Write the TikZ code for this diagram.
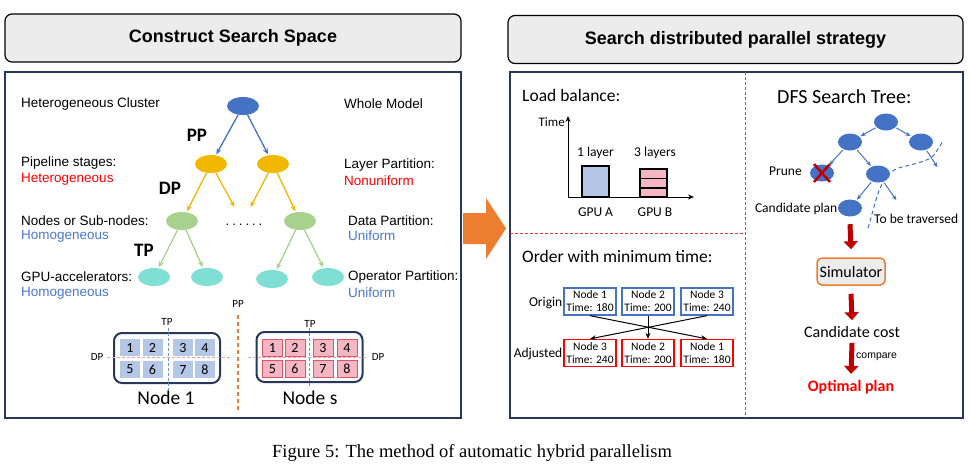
\documentclass[tikz,border=0pt]{standalone}
\usepackage{fontspec}
\setmainfont{Liberation Sans}
\newfontfamily\calfont{Carlito}
\newfontfamily\capfont{Liberation Serif}
\usetikzlibrary{arrows.meta,shapes.geometric}
\definecolor{navy}{RGB}{40,55,90}
\definecolor{tgray}{RGB}{236,236,236}
\definecolor{nblue}{RGB}{68,114,196}
\definecolor{nyellow}{RGB}{240,185,0}
\definecolor{ngreen}{RGB}{169,209,142}
\definecolor{ncyan}{RGB}{128,223,212}
\definecolor{cellblue}{RGB}{180,199,231}
\definecolor{cellpink}{RGB}{244,182,194}
\definecolor{cellred}{RGB}{224,85,100}
\definecolor{orng}{RGB}{237,125,49}
\definecolor{dred}{RGB}{192,0,0}
\definecolor{divred}{RGB}{224,60,60}
\definecolor{txtblue}{RGB}{75,120,205}
\definecolor{dppink}{RGB}{240,160,170}
\definecolor{tpblue}{RGB}{110,145,220}
\tikzset{
  titlebox/.style={draw=black, line width=1.2, fill=tgray, rounded corners=7,
    minimum height=48, inner sep=0, font=\bfseries\fontsize{18}{20}\selectfont},
  panel/.style={draw=navy, line width=2, fill=white, inner sep=0},
  tnode/.style={ellipse, minimum width=32, minimum height=18, inner sep=0},
  tarr/.style={line width=1.3, -{Stealth[length=6,width=5]}, shorten >=1},
  lab/.style={anchor=west, inner sep=0, font=\fontsize{13.5}{15}\selectfont},
  bigtp/.style={inner sep=0, font=\calfont\bfseries\fontsize{19}{20}\selectfont},
  nodebox/.style={draw=navy, line width=2, fill=white, rounded corners=8,
    minimum width=106, minimum height=50, inner sep=0},
  cellb/.style={fill=cellblue, minimum width=20, minimum height=17, inner sep=0,
    font=\calfont\fontsize{14}{15}\selectfont},
  cellp/.style={fill=cellpink, draw=cellred, line width=0.8, minimum width=20, minimum height=17, inner sep=0,
    font=\calfont\fontsize{14}{15}\selectfont},
  small/.style={inner sep=0, font=\calfont\fontsize{11}{12}\selectfont},
  nodelab/.style={inner sep=0, font=\calfont\fontsize{19.5}{21}\selectfont},
  dpline/.style={dppink, line width=1, dash pattern=on 3 off 2},
  tpline/.style={tpblue, line width=1, dash pattern=on 3 off 2},
  cal/.style={inner sep=0, font=\calfont\fontsize{#1}{#1}\selectfont},
  ordbox/.style={draw=#1, line width=1.3, fill=white, minimum width=52, minimum height=27,
    inner sep=0, align=center, font=\calfont\fontsize{11.5}{13}\selectfont},
  dfs/.style={ellipse, fill=nblue, minimum width=24, minimum height=17, inner sep=0},
  darr/.style={nblue, line width=1, -{Stealth[length=5,width=4]}, shorten >=1, shorten <=1},
  bigarr/.style={dred, line width=5, -{Triangle[length=8,width=14]}},
}
\begin{document}
\begin{tikzpicture}[x=1pt,y=-1pt]
\useasboundingbox (0,0) rectangle (973,467);
% titles
\node[titlebox, minimum width=456] (t1) at (233,38) {Construct Search Space};
\node[titlebox, minimum width=455] (t2) at (735.5,39.5) {Search distributed parallel strategy};
% panels
\node[panel, minimum width=456, minimum height=346] (p1) at (233,245) {};
\node[panel, minimum width=453, minimum height=346] (p2) at (736.5,245) {};
% orange arrow
\fill[orng] (463,213) -- (486,213) -- (486,198) -- (506,228.5) -- (486,259) -- (486,244) -- (463,244) -- cycle;

% ===== left tree =====
\node[tnode, fill=nblue] (R) at (243,106) {};
\node[tnode, fill=nyellow] (Y1) at (211,164) {};
\node[tnode, fill=nyellow] (Y2) at (273,164) {};
\node[tnode, fill=ngreen] (G1) at (182,221) {};
\node[tnode, fill=ngreen] (G2) at (300,221) {};
\node[tnode, fill=ncyan] (C1) at (154,277) {};
\node[tnode, fill=ncyan] (C2) at (207,277) {};
\node[tnode, fill=ncyan] (C3) at (272,279) {};
\node[tnode, fill=ncyan] (C4) at (328,277) {};
\coordinate (Y1e) at (235,208);
\coordinate (Y2e) at (250,208);
\draw[tarr, nblue] (R) -- (Y1);
\draw[tarr, nblue] (R) -- (Y2);
\draw[tarr, nyellow] (Y1) -- (G1);
\draw[tarr, nyellow] (Y1) -- (Y1e);
\draw[tarr, nyellow] (Y2) -- (Y2e);
\draw[tarr, nyellow] (Y2) -- (G2);
\draw[tarr, ngreen] (G1) -- (C1);
\draw[tarr, ngreen] (G1) -- (C2);
\draw[tarr, ngreen] (G2) -- (C3);
\draw[tarr, ngreen] (G2) -- (C4);
\node[inner sep=0, font=\fontsize{13}{14}\selectfont] (dots) at (244,225) {.\hspace{3pt}.\hspace{3pt}.\hspace{3pt}.\hspace{3pt}.\hspace{3pt}.};
\node[bigtp] (lPP) at (197,135) {PP};
\node[bigtp] (lDP) at (170,188) {DP};
\node[bigtp] (lTP) at (144,250) {TP};
% left labels
\node[lab] (h1) at (21,104) {Heterogeneous Cluster};
\node[lab] (h2) at (21,163) {Pipeline stages:};
\node[lab, text=red] (h2b) at (21,179) {Heterogeneous};
\node[lab] (h3) at (21,221) {Nodes or Sub-nodes:};
\node[lab, text=txtblue] (h3b) at (21,236) {Homogeneous};
\node[lab] (h4) at (21,277) {GPU-accelerators:};
\node[lab, text=txtblue] (h4b) at (21,293) {Homogeneous};
% right labels
\node[lab] (w1) at (344,104) {Whole Model};
\node[lab] (w2) at (344,165) {Layer Partition:};
\node[lab, text=red] (w2b) at (344,181) {Nonuniform};
\node[lab] (w3) at (348,221) {Data Partition:};
\node[lab, text=txtblue] (w3b) at (348,236) {Uniform};
\node[lab] (w4) at (348,277) {Operator Partition:};
\node[lab, text=txtblue] (w4b) at (348,293) {Uniform};

% ===== node 1 =====
\node[nodebox] (N1) at (167,358) {};
\draw[dpline] (107,357) -- (230,357);
\draw[tpline] (168,328) -- (168,390);
\node[cellb] (a1) at (130,347.5) {1};
\node[cellb] (a2) at (152.5,347.5) {2};
\node[cellb] (a3) at (183,347.5) {3};
\node[cellb] (a4) at (205,347.5) {4};
\node[cellb] (a5) at (130,369.5) {5};
\node[cellb] (a6) at (152.5,369.5) {6};
\node[cellb] (a7) at (183,369.5) {7};
\node[cellb] (a8) at (205,369.5) {8};
\node[small, fill=white, inner sep=0.5] (tp1) at (167,322) {TP};
\node[small, fill=white, inner sep=0.5] (dp1) at (97,357) {DP};
\node[nodelab] (n1l) at (166,398) {Node 1};
% PP divider
\node[small] (ppl) at (238,304) {PP};
\draw[orng, line width=2, dash pattern=on 4 off 3] (238,315) -- (238,411);
% ===== node s =====
\node[nodebox] (Ns) at (309.5,357) {};
\draw[dpline] (248,357) -- (367,357);
\draw[tpline] (309,328) -- (309,388);
\node[cellp] (b1) at (272.5,348) {1};
\node[cellp] (b2) at (295,348) {2};
\node[cellp] (b3) at (323,348) {3};
\node[cellp] (b4) at (347,348) {4};
\node[cellp] (b5) at (272.5,369) {5};
\node[cellp] (b6) at (295,369) {6};
\node[cellp] (b7) at (323,369) {7};
\node[cellp] (b8) at (347,369) {8};
\node[small, fill=white, inner sep=0.5] (tps) at (310,324) {TP};
\node[small, fill=white, inner sep=0.5] (dps) at (378,357) {DP};
\node[nodelab] (nsl) at (310,398) {Node s};

% ===== right panel =====
\draw[divred, line width=0.9, dash pattern=on 3 off 2] (745,72) -- (745,418);
\draw[divred, line width=0.9, dash pattern=on 3 off 2] (510,233) -- (745,233);
% load balance
\node[cal=17.5, anchor=west] (lb) at (522,95) {Load balance:};
\coordinate (O) at (568,197);
\coordinate (Ytop) at (568,116);
\coordinate (Xend) at (694,197);
\draw[line width=1, -{Stealth[length=6,width=5]}] (O) -- (Ytop);
\draw[line width=1, -{Stealth[length=6,width=5]}] (O) -- (Xend);
\node[cal=13, anchor=east] (tm) at (565,122) {Time};
\draw[fill=cellblue, line width=1.2] (582,166) rectangle (609,197);
\draw[fill=cellpink, line width=1.2] (640,169) rectangle (667,197);
\draw[line width=1.2] (640,178.5) -- (667,178.5) (640,188) -- (667,188);
\node[cal=13.5] (l1) at (595.5,153) {1 layer};
\node[cal=13.5] (l3) at (655,153) {3 layers};
\node[cal=13.5] (ga) at (595.5,212) {GPU A};
\node[cal=13.5] (gb) at (655,212) {GPU B};
% order
\node[cal=17.5, anchor=west] (ow) at (522,256) {Order with minimum time:};
\node[ordbox=nblue] (O1) at (590,301.5) {Node 1\\Time: 180};
\node[ordbox=nblue] (O2) at (648,301.5) {Node 2\\Time: 200};
\node[ordbox=nblue] (O3) at (707,301.5) {Node 3\\Time: 240};
\node[ordbox=red] (A3) at (590,353) {Node 3\\Time: 240};
\node[ordbox=red] (A2) at (648,353) {Node 2\\Time: 200};
\node[ordbox=red] (A1) at (707,353) {Node 1\\Time: 180};
\node[cal=13.5, anchor=east] (org) at (562.5,303) {Origin};
\node[cal=13.5, anchor=east] (adj) at (562.5,354) {Adjusted};
\draw[line width=1, -{Stealth[length=6,width=5]}] (O1.south) -- (A1.north);
\draw[line width=1, -{Stealth[length=6,width=5]}] (O3.south) -- (A3.north);
\draw[line width=1, -{Stealth[length=6,width=5]}] (O2.south) -- (A2.north);
% DFS tree
\node[cal=20, anchor=west] (dfst) at (777,97) {DFS Search Tree:};
\node[dfs] (D0) at (886,122) {};
\node[dfs] (D1) at (850,142) {};
\node[dfs] (D2) at (921,142) {};
\node[dfs] (Dp) at (822,173) {};
\node[dfs] (D3) at (878,174) {};
\node[dfs] (Dc) at (850,208) {};
\coordinate (D2e) at (938,168);
\coordinate (D3e) at (897,201);
\draw[darr] (D0) -- (D1);
\draw[darr] (D0) -- (D2);
\draw[darr] (D1) -- (Dp);
\draw[darr] (D1) -- (D3);
\draw[darr] (D2) -- (D2e);
\draw[darr] (D3) -- (Dc);
\draw[darr] (D3) -- (D3e);
\draw[dred, line width=2.5] ([shift={(-8,-9)}]Dp.center) -- ([shift={(8,9)}]Dp.center);
\draw[dred, line width=2.5] ([shift={(-8,9)}]Dp.center) -- ([shift={(8,-9)}]Dp.center);
\draw[nblue, line width=1, dash pattern=on 4 off 3] (868,228) .. controls (878,195) and (880,172) .. (902,167) .. controls (922,162) and (932,160) .. (936,152) -- (943,141);
\node[cal=13.5, anchor=west] (pr) at (769,171) {Prune};
\node[cal=13.5, anchor=east] (cp) at (837.5,209) {Candidate plan};
\node[cal=13.5, anchor=west] (tbt) at (874,219) {To be traversed};
% simulator chain
\node[draw=orng, line width=1.5, fill=tgray, rounded corners=5, minimum width=68, minimum height=27,
  inner sep=0, font=\calfont\fontsize{16}{17}\selectfont] (sim) at (851,271.5) {Simulator};
\node[cal=16] (cost) at (852,332) {Candidate cost};
\node[inner sep=0, text=red, font=\calfont\bfseries\fontsize{16}{17}\selectfont] (opt) at (851,387) {Optimal plan};
\node[inner sep=0, anchor=west, font=\fontsize{10.5}{11}\selectfont] (cmp) at (856,357) {compare};
\draw[bigarr] ([yshift=-7.5]Dc.south) -- ([yshift=8]sim.north);
\draw[bigarr] ([yshift=-8]sim.south) -- ([yshift=6]cost.north);
\draw[bigarr] ([yshift=-5]cost.south) -- ([yshift=6]opt.north);
% caption
\node[inner sep=0, font=\capfont\fontsize{18.5}{20}\selectfont] (cap) at (472,453) {Figure 5: The method of automatic hybrid parallelism};
\end{tikzpicture}
\end{document}
